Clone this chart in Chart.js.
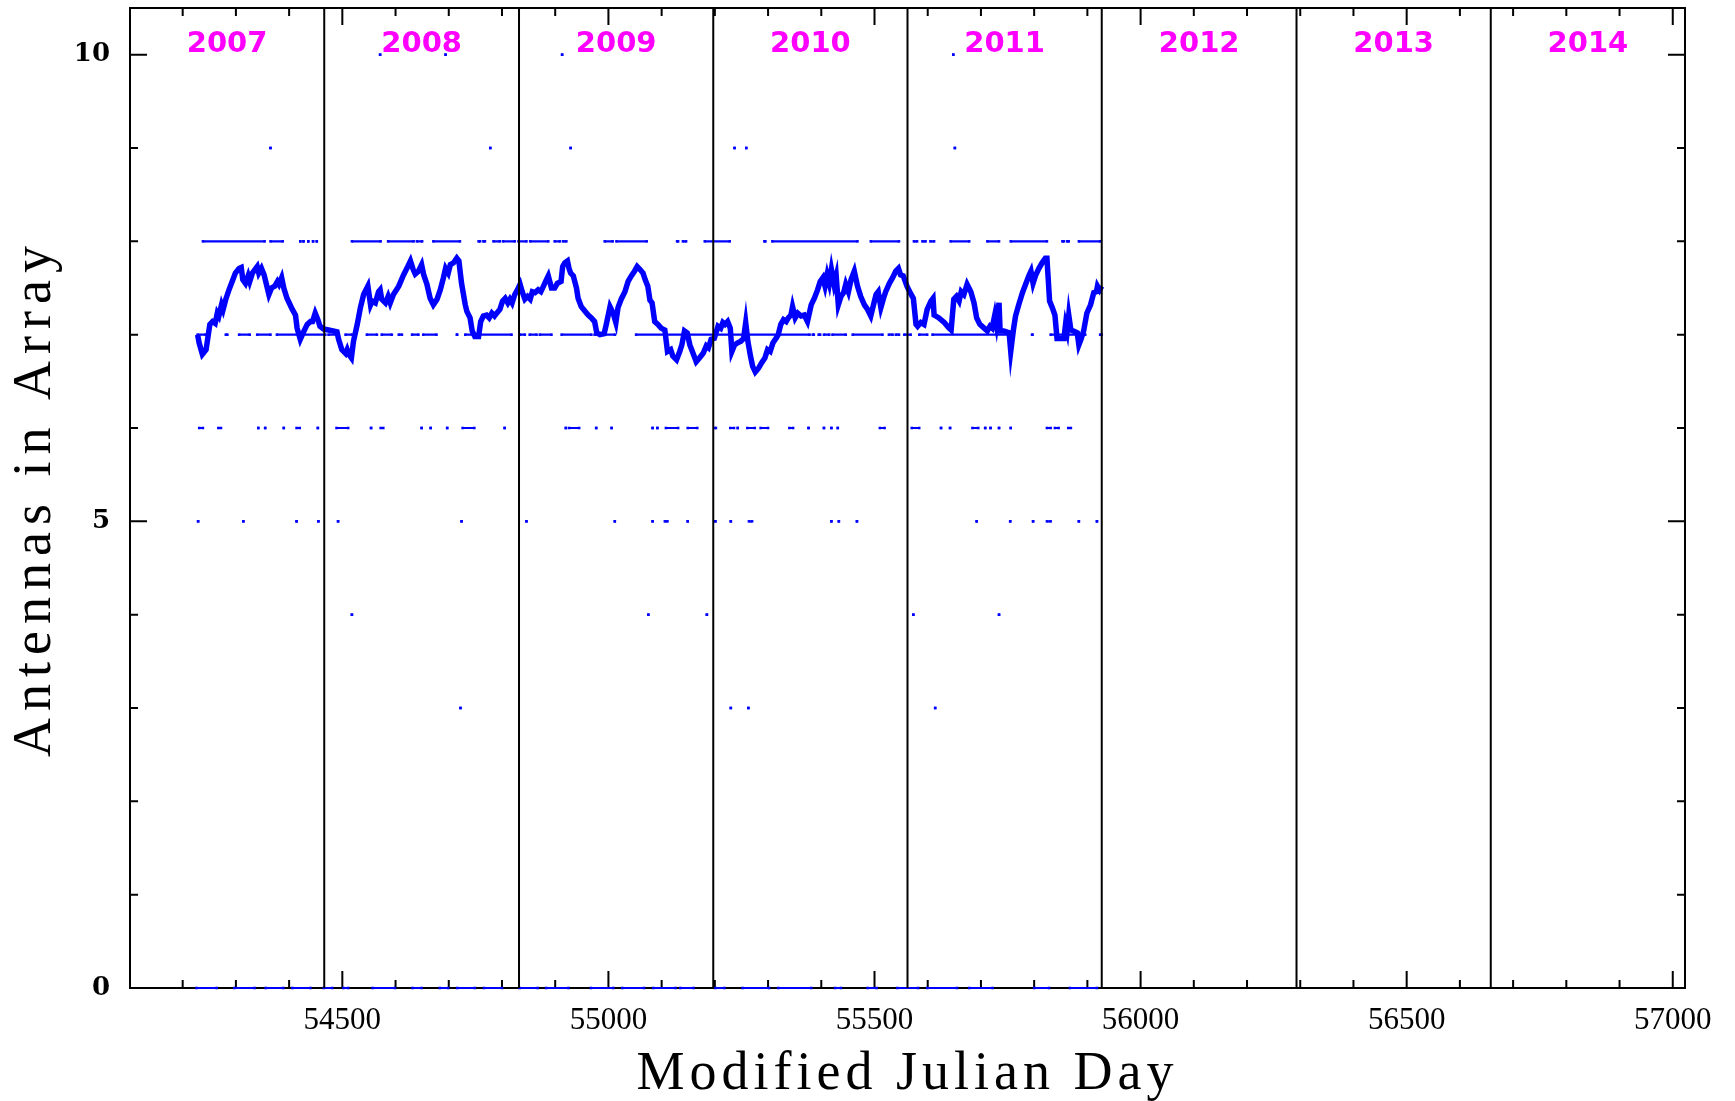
<!DOCTYPE html>
<html>
<head>
<meta charset="utf-8">
<script src="https://cdn.jsdelivr.net/npm/chart.js@4.4.1/dist/chart.umd.min.js"></script>
<style>
  html, body { margin: 0; padding: 0; background: #ffffff; }
  #wrap { width: 1735px; height: 1101px; }
</style>
</head>
<body>
<div id="wrap"><canvas id="chart" width="1735" height="1101"></canvas></div>
<script>
// Axis ranges (MJD on x, antenna count on y)
const xMin = 54101, xMax = 57023;
const yMin = 0, yMax = 10.5;

// Calendar years and the MJD on which each one starts (last entry closes 2014)
const years = ['2007', '2008', '2009', '2010', '2011', '2012', '2013', '2014'];
const yearStarts = [54101, 54466, 54832, 55197, 55562, 55927, 56293, 56658, 57023];

const xTickLabels = [54500, 55000, 55500, 56000, 56500, 57000];
const yTickLabels = [0, 5, 10];

// Running mean of the number of antennas in the array
const avgMjd = [
  54228, 54231, 54237, 54244, 54251, 54256, 54261, 54265, 54268, 54273, 54276, 54281, 54287, 54293, 54299,
  54306, 54310, 54313, 54318, 54323, 54326, 54331, 54340, 54343, 54348, 54353, 54362, 54367, 54373, 54378,
  54381, 54386, 54390, 54396, 54406, 54412, 54415, 54421, 54428, 54434, 54440, 54444, 54449, 54454, 54458,
  54465, 54474, 54490, 54493, 54499, 54506, 54509, 54512, 54517, 54521, 54528, 54534, 54540, 54548, 54553,
  54556, 54562, 54568, 54571, 54574, 54581, 54586, 54590, 54596, 54606, 54615, 54623, 54628, 54633, 54637,
  54643, 54649, 54653, 54659, 54665, 54671, 54678, 54684, 54690, 54694, 54699, 54703, 54709, 54715, 54719,
  54724, 54731, 54734, 54740, 54744, 54749, 54756, 54760, 54765, 54771, 54776, 54781, 54786, 54790, 54796,
  54801, 54806, 54811, 54815, 54819, 54824, 54829, 54834, 54838, 54843, 54848, 54853, 54857, 54862, 54868,
  54873, 54878, 54882, 54887, 54893, 54899, 54904, 54911, 54914, 54918, 54923, 54926, 54929, 54934, 54940,
  54943, 54949, 54956, 54962, 54968, 54974, 54978, 54984, 54992, 54996, 55003, 55009, 55014, 55018, 55024,
  55031, 55037, 55043, 55049, 55054, 55059, 55065, 55069, 55074, 55078, 55082, 55087, 55093, 55099, 55106,
  55111, 55117, 55121, 55128, 55134, 55138, 55143, 55148, 55153, 55159, 55165, 55171, 55178, 55184, 55188,
  55193, 55199, 55206, 55211, 55215, 55219, 55224, 55229, 55232, 55237, 55242, 55249, 55254, 55258, 55262,
  55267, 55271, 55276, 55282, 55288, 55294, 55299, 55304, 55309, 55315, 55319, 55324, 55329, 55334, 55338,
  55343, 55346, 55351, 55356, 55362, 55368, 55374, 55381, 55387, 55393, 55398, 55403, 55407, 55411, 55415,
  55419, 55424, 55428, 55432, 55437, 55442, 55446, 55451, 55456, 55462, 55468, 55474, 55481, 55487, 55493,
  55499, 55503, 55507, 55512, 55517, 55521, 55528, 55534, 55540, 55545, 55549, 55554, 55561, 55567, 55573,
  55578, 55581, 55587, 55593, 55599, 55606, 55610, 55612, 55615, 55621, 55631, 55640, 55644, 55649, 55654,
  55659, 55663, 55668, 55674, 55681, 55687, 55692, 55698, 55706, 55712, 55717, 55721, 55726, 55729, 55734,
  55736, 55743, 55753, 55756, 55761, 55765, 55771, 55778, 55784, 55790, 55794, 55798, 55803, 55809, 55815,
  55821, 55824, 55829, 55834, 55839, 55843, 55849, 55856, 55859, 55862, 55865, 55869, 55874, 55881, 55884,
  55888, 55893, 55899, 55906, 55912, 55917, 55919, 55923, 55927
];
const avgAntennas = [
  7.00, 6.91, 6.79, 6.84, 7.11, 7.14, 7.12, 7.23, 7.20, 7.32, 7.27, 7.38, 7.48, 7.57, 7.66,
  7.71, 7.72, 7.59, 7.55, 7.63, 7.57, 7.66, 7.73, 7.66, 7.71, 7.64, 7.43, 7.50, 7.52, 7.57,
  7.54, 7.61, 7.50, 7.39, 7.27, 7.21, 7.07, 6.95, 7.04, 7.11, 7.14, 7.14, 7.23, 7.16, 7.09,
  7.06, 7.05, 7.03, 6.95, 6.84, 6.80, 6.84, 6.79, 6.75, 6.93, 7.11, 7.29, 7.43, 7.52, 7.32,
  7.36, 7.34, 7.46, 7.48, 7.38, 7.34, 7.41, 7.34, 7.43, 7.52, 7.64, 7.73, 7.79, 7.70, 7.65,
  7.68, 7.75, 7.64, 7.54, 7.39, 7.32, 7.38, 7.48, 7.61, 7.71, 7.66, 7.75, 7.77, 7.82, 7.79,
  7.55, 7.32, 7.25, 7.18, 7.04, 6.98, 6.98, 7.14, 7.20, 7.21, 7.18, 7.23, 7.20, 7.23, 7.27,
  7.36, 7.39, 7.34, 7.38, 7.34, 7.43, 7.48, 7.54, 7.46, 7.38, 7.41, 7.38, 7.46, 7.45, 7.48,
  7.46, 7.52, 7.57, 7.63, 7.50, 7.50, 7.55, 7.57, 7.73, 7.77, 7.79, 7.71, 7.66, 7.63, 7.50,
  7.39, 7.30, 7.25, 7.21, 7.18, 7.14, 7.02, 7.00, 7.01, 7.11, 7.30, 7.23, 7.13, 7.29, 7.38,
  7.46, 7.57, 7.63, 7.68, 7.73, 7.70, 7.66, 7.59, 7.52, 7.37, 7.34, 7.14, 7.11, 7.07, 7.05,
  6.82, 6.84, 6.77, 6.73, 6.82, 6.89, 7.04, 7.02, 6.89, 6.80, 6.71, 6.75, 6.80, 6.88, 6.86,
  6.95, 6.96, 7.09, 7.07, 7.13, 7.11, 7.14, 7.07, 6.82, 6.89, 6.91, 6.93, 6.96, 7.13, 6.93,
  6.77, 6.66, 6.60, 6.64, 6.70, 6.75, 6.84, 6.82, 6.91, 6.96, 7.00, 7.11, 7.16, 7.14, 7.18,
  7.21, 7.30, 7.18, 7.23, 7.20, 7.21, 7.14, 7.32, 7.39, 7.48, 7.57, 7.61, 7.52, 7.64, 7.55,
  7.70, 7.54, 7.63, 7.32, 7.41, 7.45, 7.54, 7.46, 7.59, 7.68, 7.52, 7.41, 7.32, 7.27, 7.20,
  7.34, 7.43, 7.46, 7.29, 7.39, 7.46, 7.55, 7.61, 7.68, 7.71, 7.64, 7.63, 7.52, 7.45, 7.39,
  7.11, 7.09, 7.13, 7.11, 7.27, 7.36, 7.39, 7.21, 7.20, 7.18, 7.13, 7.07, 7.05, 7.38, 7.41,
  7.36, 7.46, 7.43, 7.54, 7.46, 7.34, 7.18, 7.11, 7.07, 7.04, 7.09, 7.07, 7.21, 7.11, 7.34,
  7.04, 7.04, 7.02, 6.82, 7.05, 7.20, 7.32, 7.45, 7.54, 7.63, 7.68, 7.55, 7.64, 7.71, 7.77,
  7.82, 7.82, 7.36, 7.29, 7.21, 6.96, 6.96, 6.96, 7.11, 7.04, 7.21, 7.05, 7.04, 7.02, 6.89,
  6.95, 7.04, 7.23, 7.32, 7.45, 7.46, 7.52, 7.48, 7.52
];

// Daily antenna counts, stored as [first MJD, last MJD] runs per count
const daysWith10 = [[54571, 54571], [54694, 54694], [54913, 54913], [55648, 55648]];
const daysWith9 = [[54365, 54365], [54778, 54778], [54929, 54929], [55237, 55237], [55259, 55259], [55651, 55651]];
const daysWith8 = [
  [54238, 54354], [54365, 54388], [54421, 54421], [54427, 54427], [54436, 54436], [54445, 54445], [54452, 54452],
  [54518, 54572], [54586, 54634], [54640, 54650], [54671, 54721], [54756, 54759], [54765, 54768],
  [54784, 54796], [54802, 54824], [54831, 54846], [54853, 54887], [54899, 54909], [54915, 54921],
  [54993, 55008], [55015, 55072], [55129, 55131], [55140, 55146], [55181, 55228], [55293, 55295],
  [55308, 55468], [55493, 55546], [55574, 55580], [55590, 55596], [55605, 55612], [55643, 55678],
  [55712, 55734], [55756, 55824], [55853, 55856], [55862, 55865], [55884, 55924]
];
const daysWith7 = [
  [54228, 54243], [54281, 54284], [54306, 54326], [54340, 54365], [54377, 54468], [54474, 54490],
  [54506, 54518], [54546, 54565], [54574, 54593], [54606, 54612], [54631, 54643], [54652, 54677],
  [54715, 54716], [54731, 54818], [54834, 54843], [54852, 54865], [54871, 54893], [54912, 54968],
  [54974, 55012], [55052, 55378], [55384, 55386], [55395, 55398], [55405, 55415], [55421, 55446],
  [55459, 55515], [55527, 55534], [55540, 55546], [55556, 55568], [55584, 55599], [55609, 55752],
  [55796, 55797], [55831, 55896], [55924, 55927]
];
const daysWith6 = [
  [54231, 54238], [54267, 54272], [54342, 54342], [54355, 54355], [54390, 54390], [54414, 54420],
  [54454, 54454], [54489, 54511], [54554, 54554], [54572, 54577], [54649, 54649], [54666, 54666],
  [54697, 54697], [54726, 54748], [54805, 54805], [54920, 54920], [54926, 54945], [54977, 54977],
  [55006, 55006], [55083, 55083], [55092, 55092], [55108, 55131], [55149, 55167], [55200, 55202],
  [55229, 55236], [55243, 55243], [55261, 55275], [55286, 55300], [55340, 55347], [55376, 55376],
  [55405, 55405], [55419, 55419], [55431, 55431], [55510, 55519], [55570, 55584], [55625, 55625],
  [55642, 55642], [55684, 55695], [55708, 55708], [55718, 55718], [55734, 55734], [55756, 55756],
  [55824, 55831], [55839, 55846], [55864, 55869]
];
const daysWith5 = [
  [54229, 54229], [54314, 54314], [54414, 54414], [54455, 54455], [54492, 54492], [54724, 54724],
  [54846, 54846], [55012, 55012], [55083, 55083], [55106, 55111], [55149, 55149], [55201, 55201],
  [55230, 55230], [55264, 55270], [55419, 55419], [55433, 55433], [55467, 55467], [55692, 55692],
  [55755, 55755], [55798, 55798], [55824, 55831], [55884, 55884], [55918, 55918]
];
const daysWith4 = [[54518, 54518], [55075, 55075], [55185, 55185], [55573, 55573], [55734, 55734]];
const daysWith3 = [[54722, 54722], [55230, 55230], [55263, 55263], [55614, 55614]];
const daysWith0 = [
  [54226, 54264], [54297, 54335], [54356, 54389], [54406, 54440], [54465, 54481], [54502, 54511],
  [54557, 54599], [54632, 54649], [54683, 54699], [54716, 54749], [54766, 54800], [54833, 54867],
  [54883, 54925], [54967, 55009], [55026, 55067], [55084, 55126], [55135, 55160], [55201, 55218],
  [55252, 55302], [55319, 55381], [55426, 55437], [55487, 55504], [55543, 55582], [55599, 55655],
  [55678, 55722], [55800, 55828], [55867, 55918]
];

const BLUE = '#0000ff';

function runsToPoints(runs, count) {
  const pts = [];
  runs.forEach(([a, b]) => {
    pts.push({ x: a, y: count }, { x: b, y: count }, { x: b, y: null });
  });
  return pts;
}

function dailyDataset(runs, count) {
  return {
    data: runsToPoints(runs, count),
    borderColor: BLUE,
    borderWidth: 2.2,
    pointRadius: 1.8,
    pointStyle: 'rect',
    pointBorderWidth: 0,
    pointBackgroundColor: BLUE,
    clip: false
  };
}

// Year boundaries as vertical rules spanning the full y range
const boundaryPoints = [];
yearStarts.slice(1, -1).forEach(m => {
  boundaryPoints.push({ x: m, y: yMin }, { x: m, y: yMax }, { x: m, y: null });
});

const datasets = [
  {
    data: boundaryPoints,
    borderColor: '#000000',
    borderWidth: 2,
    pointRadius: 0
  },
  {
    data: avgMjd.map((m, i) => ({ x: m, y: avgAntennas[i] })),
    borderColor: BLUE,
    borderWidth: 5.5,
    pointRadius: 0,
    borderJoinStyle: 'miter'
  },
  dailyDataset(daysWith10, 10),
  dailyDataset(daysWith9, 9),
  dailyDataset(daysWith8, 8),
  dailyDataset(daysWith7, 7),
  dailyDataset(daysWith6, 6),
  dailyDataset(daysWith5, 5),
  dailyDataset(daysWith4, 4),
  dailyDataset(daysWith3, 3),
  dailyDataset(daysWith0, 0)
];

// Box frame with inward ticks on all four sides
const framePlugin = {
  id: 'frame',
  beforeDatasetsDraw(chart) {
    const { ctx, chartArea: a, scales: { x, y } } = chart;
    ctx.save();
    ctx.strokeStyle = '#000000';
    ctx.lineWidth = 2;
    ctx.strokeRect(a.left, a.top, a.right - a.left, a.bottom - a.top);
    ctx.beginPath();
    for (let v = Math.ceil(xMin / 100) * 100; v <= xMax; v += 100) {
      const px = x.getPixelForValue(v);
      const len = v % 500 === 0 ? 17 : 8;
      ctx.moveTo(px, a.bottom); ctx.lineTo(px, a.bottom - len);
      ctx.moveTo(px, a.top); ctx.lineTo(px, a.top + len);
    }
    for (let v = 0; v <= yMax; v += 1) {
      const py = y.getPixelForValue(v);
      const len = v % 5 === 0 ? 17 : 8;
      ctx.moveTo(a.left, py); ctx.lineTo(a.left + len, py);
      ctx.moveTo(a.right, py); ctx.lineTo(a.right - len, py);
    }
    ctx.stroke();
    ctx.restore();
  }
};

// Year names and axis titles
const textPlugin = {
  id: 'texts',
  afterDraw(chart) {
    const { ctx, chartArea: a, scales: { x } } = chart;
    ctx.save();
    ctx.fillStyle = '#ff00ff';
    ctx.font = 'bold 29px "DejaVu Sans"';
    ctx.textAlign = 'center';
    ctx.textBaseline = 'alphabetic';
    years.forEach((yr, i) => {
      const cx = x.getPixelForValue((yearStarts[i] + yearStarts[i + 1]) / 2);
      ctx.fillText(yr, cx, 52);
    });

    ctx.fillStyle = '#000000';
    ctx.font = '54px "Liberation Serif"';
    ctx.letterSpacing = '5px';
    ctx.fillText('Modified Julian Day', (a.left + a.right) / 2, 1089);

    ctx.letterSpacing = '7px';
    ctx.translate(50, (a.top + a.bottom) / 2);
    ctx.rotate(-Math.PI / 2);
    ctx.fillText('Antennas in Array', 0, 0);
    ctx.restore();
  }
};

new Chart(document.getElementById('chart'), {
  type: 'line',
  data: { datasets },
  options: {
    responsive: false,
    animation: false,
    devicePixelRatio: 1,
    events: [],
    layout: { padding: { top: 8, right: 50, left: 0, bottom: 0 } },
    plugins: { legend: { display: false }, tooltip: { enabled: false } },
    elements: { line: { tension: 0 } },
    scales: {
      x: {
        type: 'linear',
        min: xMin,
        max: xMax,
        grid: { display: false, drawTicks: false },
        border: { display: false },
        afterBuildTicks: s => { s.ticks = xTickLabels.map(v => ({ value: v })); },
        afterFit: s => {
          s.height = 113;
          s.paddingLeft = 0; s.paddingRight = 0; s.paddingTop = 0; s.paddingBottom = 0;
        },
        ticks: {
          autoSkip: false,
          maxRotation: 0,
          padding: 14,
          color: '#000000',
          font: { family: 'Liberation Serif', size: 31 },
          callback: v => String(v)
        }
      },
      y: {
        type: 'linear',
        min: yMin,
        max: yMax,
        grid: { display: false, drawTicks: false },
        border: { display: false },
        afterBuildTicks: s => { s.ticks = yTickLabels.map(v => ({ value: v })); },
        afterFit: s => {
          s.width = 130;
          s.paddingLeft = 0; s.paddingRight = 0; s.paddingTop = 0; s.paddingBottom = 0;
        },
        ticks: {
          padding: 20,
          color: '#000000',
          font: { family: 'DejaVu Serif', size: 26, weight: 'bold' },
          callback: v => String(v)
        }
      }
    }
  },
  plugins: [framePlugin, textPlugin]
});
</script>
</body>
</html>
